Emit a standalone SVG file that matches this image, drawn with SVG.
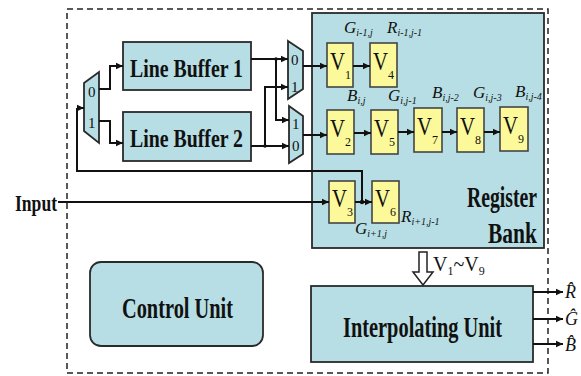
<svg xmlns="http://www.w3.org/2000/svg" width="581" height="376" viewBox="0 0 581 376">
<defs>
<marker id="ah" markerUnits="userSpaceOnUse" markerWidth="8" markerHeight="8" refX="7" refY="4" orient="auto">
<path d="M0,0.8 L7,4 L0,7.2 Z" fill="#111"/>
</marker>
<style>
.blk{fill:#b7dee4;stroke:#2a2a2a;stroke-width:1.8}
.reg{fill:#fbf99a;stroke:#444;stroke-width:1.6}
.ln{fill:none;stroke:#111;stroke-width:2}
.ar{fill:none;stroke:#111;stroke-width:2;marker-end:url(#ah)}
.t{font-family:"Liberation Serif",serif;fill:#111}
.b{font-weight:bold}
.it{font-family:"Liberation Serif",serif;font-style:italic;fill:#111}
.mx{font-family:"Liberation Serif",serif;font-size:15px;fill:#111}
</style>
</defs>
<rect x="0" y="0" width="581" height="376" fill="#fff"/>
<rect x="67" y="9" width="481" height="364" fill="none" stroke="#222" stroke-width="1.5" stroke-dasharray="6 4"/>

<g id="register-bank">
<rect class="blk" x="312" y="13" width="232" height="235"/>
<text class="t b" x="467" y="207" font-size="29" textLength="70" lengthAdjust="spacingAndGlyphs">Register</text>
<text class="t b" x="488" y="243" font-size="29" textLength="49" lengthAdjust="spacingAndGlyphs">Bank</text>
</g>

<g id="line-buffer-1">
<rect class="blk" x="123" y="42" width="128" height="48"/>
<text class="t b" x="130" y="77" font-size="26" textLength="113" lengthAdjust="spacingAndGlyphs">Line Buffer 1</text>
</g>
<g id="line-buffer-2">
<rect class="blk" x="123" y="112" width="128" height="49"/>
<text class="t b" x="130" y="147" font-size="26" textLength="113" lengthAdjust="spacingAndGlyphs">Line Buffer 2</text>
</g>

<g id="demux">
<polygon class="blk" points="84,83 99,72 99,143 84,131"/>
<text class="mx" x="88" y="97">0</text>
<text class="mx" x="88" y="128">1</text>
</g>
<g id="mux1">
<polygon class="blk" points="288,41 303,51 303,89 288,99"/>
<text class="mx" x="291" y="65">0</text>
<text class="mx" x="291" y="92">1</text>
</g>
<g id="mux2">
<polygon class="blk" points="289,106 303,116 303,154 289,163"/>
<text class="mx" x="292" y="129">1</text>
<text class="mx" x="292" y="151">0</text>
</g>

<g id="control-unit">
<rect class="blk" x="90" y="262" width="173" height="84" rx="11"/>
<text class="t b" x="122" y="318" font-size="30" textLength="111" lengthAdjust="spacingAndGlyphs">Control Unit</text>
</g>
<g id="interpolating-unit">
<rect class="blk" x="311" y="286" width="222" height="76"/>
<text class="t b" x="343" y="337" font-size="30" textLength="159" lengthAdjust="spacingAndGlyphs">Interpolating Unit</text>
</g>

<g id="v1"><rect class="reg" x="327" y="43" width="26" height="44"/><text class="t" x="330" y="70" font-size="25" textLength="15" lengthAdjust="spacingAndGlyphs">V</text><text class="t" x="345" y="79" font-size="12">1</text></g>
<g id="v4"><rect class="reg" x="370" y="43" width="27" height="44"/><text class="t" x="373" y="70" font-size="25" textLength="15" lengthAdjust="spacingAndGlyphs">V</text><text class="t" x="388" y="79" font-size="12">4</text></g>
<g id="v2"><rect class="reg" x="327" y="110" width="27" height="44"/><text class="t" x="330" y="137" font-size="25" textLength="15" lengthAdjust="spacingAndGlyphs">V</text><text class="t" x="345" y="146" font-size="12">2</text></g>
<g id="v5"><rect class="reg" x="371" y="110" width="27" height="44"/><text class="t" x="374" y="137" font-size="25" textLength="15" lengthAdjust="spacingAndGlyphs">V</text><text class="t" x="389" y="146" font-size="12">5</text></g>
<g id="v7"><rect class="reg" x="414" y="108" width="28" height="44"/><text class="t" x="417" y="135" font-size="25" textLength="15" lengthAdjust="spacingAndGlyphs">V</text><text class="t" x="432" y="144" font-size="12">7</text></g>
<g id="v8"><rect class="reg" x="457" y="108" width="27" height="44"/><text class="t" x="460" y="135" font-size="25" textLength="15" lengthAdjust="spacingAndGlyphs">V</text><text class="t" x="475" y="144" font-size="12">8</text></g>
<g id="v9"><rect class="reg" x="500" y="107" width="28" height="44"/><text class="t" x="503" y="134" font-size="25" textLength="15" lengthAdjust="spacingAndGlyphs">V</text><text class="t" x="518" y="143" font-size="12">9</text></g>
<g id="v3"><rect class="reg" x="329" y="181" width="26" height="42"/><text class="t" x="332" y="207" font-size="25" textLength="15" lengthAdjust="spacingAndGlyphs">V</text><text class="t" x="347" y="216" font-size="12">3</text></g>
<g id="v6"><rect class="reg" x="372" y="181" width="27" height="42"/><text class="t" x="375" y="207" font-size="25" textLength="15" lengthAdjust="spacingAndGlyphs">V</text><text class="t" x="390" y="216" font-size="12">6</text></g>

<g id="labels">
<text class="it" x="344" y="33" font-size="17">G<tspan font-size="10" dy="3">i-1,j</tspan></text>
<text class="it" x="387" y="33" font-size="17">R<tspan font-size="10" dy="3">i-1,j-1</tspan></text>
<text class="it" x="347" y="101" font-size="17">B<tspan font-size="10" dy="3">i,j</tspan></text>
<text class="it" x="388" y="101" font-size="17">G<tspan font-size="10" dy="3">i,j-1</tspan></text>
<text class="it" x="432" y="98" font-size="17">B<tspan font-size="10" dy="3">i,j-2</tspan></text>
<text class="it" x="473" y="98" font-size="17">G<tspan font-size="10" dy="3">i,j-3</tspan></text>
<text class="it" x="515" y="97" font-size="17">B<tspan font-size="10" dy="3">i,j-4</tspan></text>
<text class="it" x="355" y="234" font-size="17">G<tspan font-size="10" dy="3">i+1,j</tspan></text>
<text class="it" x="401" y="222" font-size="17">R<tspan font-size="10" dy="3">i+1,j-1</tspan></text>
<text class="t b" x="15" y="211" font-size="24" textLength="42" lengthAdjust="spacingAndGlyphs">Input</text>
<text class="t" x="433" y="271" font-size="20">V<tspan font-size="12" dy="4">1</tspan><tspan dy="-4">~V</tspan><tspan font-size="12" dy="4">9</tspan></text>
<text class="it" x="565" y="298" font-size="18">R&#x302;</text>
<text class="it" x="565" y="325" font-size="18">G&#x302;</text>
<text class="it" x="565" y="351" font-size="18">B&#x302;</text>
</g>

<g id="connectors">
<path class="ar" d="M58,202 H329"/>
<path class="ar" d="M355,202 H372"/>
<path class="ln" d="M362,202 V171 H77 V108"/>
<path class="ar" d="M77,108 H84"/>
<path class="ar" d="M99,89 H110 V66 H123" stroke-width="2.5"/>
<path class="ar" d="M99,121 H110 V143 H123" stroke-width="2.5"/>
<path class="ar" d="M251,59 H288"/>
<path class="ar" d="M276,59 V120 H289"/>
<path class="ar" d="M251,146 H289"/>
<path class="ar" d="M265,146 V87 H288"/>
<path class="ar" d="M303,66 H327"/>
<path class="ar" d="M303,135 H327"/>
<path class="ar" d="M353,66 H370"/>
<path class="ar" d="M354,133 H371"/>
<path class="ar" d="M398,132 H414"/>
<path class="ar" d="M442,132 H457"/>
<path class="ar" d="M484,132 H500"/>
<path class="ar" d="M533,292 H563"/>
<path class="ar" d="M533,319 H563"/>
<path class="ar" d="M533,344 H563"/>
<circle cx="362" cy="202" r="2.2" fill="#111"/>
<circle cx="276" cy="59" r="1.8" fill="#111"/>
<circle cx="265" cy="146" r="1.8" fill="#111"/>
<path d="M419,252 H427 V272 H433 L423,285 L413,272 H419 Z" fill="#fff" stroke="#222" stroke-width="1.5"/>
</g>
</svg>
